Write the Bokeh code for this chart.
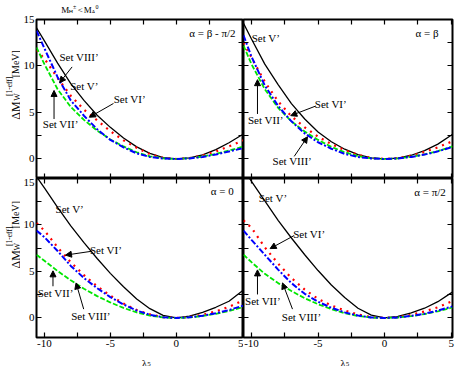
from bokeh.plotting import figure
from bokeh.layouts import gridplot
from bokeh.models import Range1d, FixedTicker, LinearAxis, Label, Arrow, NormalHead
from bokeh.embed import file_html
from bokeh.resources import INLINE
import math

FONT = "Liberation Serif, Times New Roman, serif"

# ---------------- data ----------------
lam = [-10.6, -10, -9, -8, -7, -6, -5, -4, -3, -2, -1, 0, 1, 2, 3, 4, 5, 5.1]

# alpha = beta - pi/2
tl_set5 = [14.1, 12.7, 10.3, 8.1, 6.3, 4.7, 3.4, 2.25, 1.3, 0.6, 0.15, 0, 0.12, 0.45, 1.0, 1.75, 2.6, 2.7]
tl_set6 = [11.7, 10.8, 8.7, 6.8, 5.3, 4.15, 3.0, 2.0, 1.2, 0.52, 0.13, 0, 0.1, 0.38, 0.8, 1.35, 1.95, 2.0]
tl_set7 = [12.0, 10.2, 7.5, 5.6, 4.2, 3.05, 2.1, 1.35, 0.72, 0.29, 0.07, 0, 0.07, 0.26, 0.55, 0.9, 1.3, 1.35]
tl_set8 = [13.8, 11.9, 8.8, 6.3, 4.65, 3.2, 2.05, 1.25, 0.6, 0.22, 0.05, 0, 0.06, 0.22, 0.48, 0.8, 1.15, 1.2]

# alpha = beta
tr_set5 = [14.6, 12.9, 10.2, 8.0, 5.95, 4.3, 2.9, 1.85, 1.05, 0.47, 0.12, 0, 0.1, 0.4, 0.9, 1.6, 2.55, 2.65]
tr_set6 = [12.5, 10.9, 8.3, 6.2, 4.6, 3.4, 2.4, 1.6, 0.95, 0.45, 0.11, 0, 0.09, 0.35, 0.75, 1.25, 1.85, 1.9]
tr_set7 = [12.2, 10.2, 7.5, 5.5, 4.05, 2.95, 2.05, 1.3, 0.72, 0.3, 0.07, 0, 0.06, 0.24, 0.5, 0.85, 1.3, 1.35]
tr_set8 = [13.3, 11.0, 7.9, 5.7, 4.05, 2.75, 1.8, 1.1, 0.55, 0.22, 0.05, 0, 0.06, 0.22, 0.47, 0.82, 1.25, 1.3]

# alpha = 0
bl_set5 = [15.2, 14.0, 11.9, 9.9, 8.1, 6.4, 4.8, 3.35, 2.05, 1.0, 0.28, 0, 0.2, 0.6, 1.15, 1.8, 2.9, 3.0]
bl_set6 = [10.2, 9.4, 7.6, 6.0, 4.6, 3.4, 2.4, 1.55, 0.85, 0.38, 0.09, 0, 0.09, 0.35, 0.7, 1.2, 1.85, 1.9]
bl_set7 = [6.8, 6.15, 5.05, 4.05, 3.15, 2.35, 1.67, 1.08, 0.6, 0.25, 0.06, 0, 0.06, 0.22, 0.45, 0.75, 1.15, 1.2]
bl_set8 = [9.4, 8.7, 7.2, 5.6, 4.3, 3.2, 2.25, 1.45, 0.8, 0.34, 0.08, 0, 0.07, 0.25, 0.5, 0.85, 1.3, 1.35]

# alpha = pi/2
br_set5 = [16.0, 14.7, 12.6, 10.5, 8.6, 6.8, 5.1, 3.55, 2.2, 1.05, 0.3, 0, 0.18, 0.55, 1.05, 1.75, 2.7, 2.8]
br_set6 = [10.5, 9.7, 7.6, 5.85, 4.3, 3.05, 2.05, 1.35, 0.8, 0.38, 0.09, 0, 0.09, 0.33, 0.7, 1.15, 1.75, 1.8]
br_set7 = [6.8, 6.0, 4.75, 3.75, 2.9, 2.12, 1.48, 0.95, 0.52, 0.22, 0.05, 0, 0.05, 0.2, 0.42, 0.72, 1.1, 1.15]
br_set8 = [9.4, 8.4, 6.8, 5.2, 3.75, 2.6, 1.75, 1.1, 0.6, 0.26, 0.06, 0, 0.06, 0.22, 0.45, 0.8, 1.2, 1.25]

x_major = [-10, -5, 0, 5]
x_minor = [-7.5, -2.5, 2.5]
x_tick_text = {-10: "-10", -5: "-5", 0: "0", 5: "5"}
y_major = [0, 5, 10, 15]
y_minor = [2.5, 7.5, 12.5]
y_tick_text = {0: "0", 5: "5", 10: "10", 15: "15"}

panel_titles = ["α = β - π/2", "α = β", "α = 0", "α = π/2"]
set_names = ["Set V’", "Set VI’", "Set VII’", "Set VIII’"]

# ---------------- layout (pixels) ----------------
XR = (-10.6, 5.1)
YR = (-2.1, 15.0)
YLAB_W = 20      # column holding the rotated y-axis titles
HEAD_H = 13      # row holding the "M_H± < M_A0" header
XLAB_H = 15      # row holding the lambda_5 titles
FRAME_W = 209
FRAME_H = 159
L_BORDER = 14
R_BORDER = 4
T_BORDER = 6
B_BORDER = 14

SERIES_STYLE = [
    dict(line_color="black", line_width=1.3),
    dict(line_color="#ff0000", line_width=2.2, line_dash="2 5"),
    dict(line_color="#00e600", line_width=1.8, line_dash="5 2"),
    dict(line_color="#0000ff", line_width=2.0, line_dash="6 2 2 2"),
]


def style_axis(ax, ticks, minor, show_labels, overrides):
    ax.ticker = FixedTicker(ticks=ticks, minor_ticks=minor)
    ax.axis_line_color = None
    ax.major_tick_in = 5
    ax.major_tick_out = 0
    ax.minor_tick_in = 5
    ax.minor_tick_out = 0
    ax.major_tick_line_color = "black"
    ax.minor_tick_line_color = "black"
    ax.major_tick_line_width = 1.2
    ax.minor_tick_line_width = 1.2
    ax.axis_label = None
    if show_labels:
        ax.major_label_overrides = overrides
        ax.major_label_text_font = FONT
        ax.major_label_text_font_size = "11px"
        ax.major_label_text_color = "black"
        ax.major_label_standoff = 2
    else:
        ax.major_label_text_color = None
        ax.major_label_standoff = 0


def make_panel(is_left, is_top, series, title, title_x, title_y, labels, arrows):
    p = figure(
        width=(L_BORDER if is_left else 0) + FRAME_W + (0 if is_left else R_BORDER),
        height=(T_BORDER if is_top else 0) + FRAME_H + (0 if is_top else B_BORDER),
        x_range=Range1d(*XR), y_range=Range1d(*YR),
        output_backend="svg", toolbar_location=None, title=None,
        min_border_left=L_BORDER if is_left else 0,
        min_border_right=0 if is_left else R_BORDER,
        min_border_top=T_BORDER if is_top else 0,
        min_border_bottom=0 if is_top else B_BORDER,
        outline_line_color="black", outline_line_width=2,
        background_fill_color="white", border_fill_color="white",
    )
    p.xgrid.visible = False
    p.ygrid.visible = False
    style_axis(p.xaxis[0], x_major, x_minor, not is_top, x_tick_text)
    style_axis(p.yaxis[0], y_major, y_minor, is_left, y_tick_text)
    top_ax = LinearAxis()
    style_axis(top_ax, x_major, x_minor, False, x_tick_text)
    p.add_layout(top_ax, "above")
    right_ax = LinearAxis()
    style_axis(right_ax, y_major, y_minor, False, y_tick_text)
    p.add_layout(right_ax, "right")

    for vals, st in zip(series, SERIES_STYLE):
        p.line(lam, vals, **st)

    p.add_layout(Label(x=title_x, y=title_y, text=title, text_font=FONT,
                       text_font_size="11px", text_align="right",
                       text_baseline="middle", text_color="black"))
    for name, (lx, ly) in zip(set_names, labels):
        p.add_layout(Label(x=lx, y=ly, text=name, text_font=FONT,
                           text_font_size="11px", text_align="center",
                           text_baseline="middle", text_color="black"))
    for (x0, y0, x1, y1) in arrows:
        p.add_layout(Arrow(end=NormalHead(size=6, fill_color="black",
                                          line_color="black", line_width=1),
                           x_start=x0, y_start=y0, x_end=x1, y_end=y1,
                           line_color="black", line_width=1))
    return p


def text_strip(w, h, pieces, angle=0.0):
    """A blank plot whose frame is the whole canvas; it only carries texts.
    pieces: (text, x_px, y_px_from_bottom, font_size)"""
    f = figure(width=w, height=h, x_range=Range1d(0, w), y_range=Range1d(0, h),
               min_border=0, toolbar_location=None, output_backend="svg", title=None,
               x_axis_location=None, y_axis_location=None,
               outline_line_color=None, background_fill_color="white",
               border_fill_color="white")
    f.grid.visible = False
    for t, x, y, fs in pieces:
        f.add_layout(Label(text=t, x=x, y=y, angle=angle, text_font=FONT,
                           text_font_size=fs, text_align="left",
                           text_baseline="alphabetic", text_color="black"))
    return f


tl = make_panel(True, True, [tl_set5, tl_set6, tl_set7, tl_set8], panel_titles[0], 4.5, 13.5,
                [(-6.97, 7.8), (-3.53, 6.4), (-8.77, 3.8), (-7.37, 10.95)],
                [(-4.76, 5.97, -6.59, 4.49), (-9.27, 4.3, -9.27, 7.37), (-7.9, 9.9, -8.85, 8.2)])
tr = make_panel(False, True, [tr_set5, tr_set6, tr_set7, tr_set8], panel_titles[1], 4.06, 13.5,
                [(-8.92, 13.0), (-4.04, 5.9), (-8.92, 4.14), (-6.94, -0.25)],
                [(-5.16, 5.7, -7.05, 4.66), (-9.55, 4.84, -9.55, 8.53), (-6.79, 0.28, -5.79, 2.39)])
bl = make_panel(True, False, [bl_set5, bl_set6, bl_set7, bl_set8], panel_titles[2], 4.36, 13.7,
                [(-8.08, 11.7), (-5.33, 7.3), (-9.15, 2.7), (-6.47, 0.25)],
                [(-6.39, 7.18, -8.4, 6.76), (-9.35, 3.41, -9.35, 5.07), (-7.02, 0.95, -7.6, 3.77)])
br = make_panel(False, False, [br_set5, br_set6, br_set7, br_set8], panel_titles[3], 4.6, 13.6,
                [(-8.38, 12.9), (-5.66, 9.05), (-9.14, 1.83), (-6.24, 0.07)],
                [(-6.79, 8.87, -8.6, 7.46), (-9.55, 2.53, -9.55, 5.17), (-6.92, 0.95, -7.67, 3.77)])

TOP_H = T_BORDER + FRAME_H
BOT_H = FRAME_H + B_BORDER
LEFT_W = L_BORDER + FRAME_W
RIGHT_W = FRAME_W + R_BORDER

# header  M_{H±} < M_{A0}
header = text_strip(LEFT_W, HEAD_H, [
    ("M", 26.7, 3.8, "9px"), ("H", 34.8, 2.0, "6px"), ("±", 39.2, 6.8, "6px"),
    ("<", 44.5, 3.8, "9px"), ("M", 51.0, 3.8, "9px"), ("A", 59.1, 2.0, "6px"),
    ("0", 63.5, 6.8, "6px"),
])

# rotated y titles  ΔM_W^[1-eff] [MeV]
ylab_top = text_strip(YLAB_W, TOP_H, [
    ("ΔM", 15, 61, "12px"), ("W", 17.4, 80.6, "8px"),
    ("[1-eff]", 9, 85.5, "7.5px"), ("[MeV]", 15, 105, "10px"),
], angle=math.pi / 2)
ylab_bot = text_strip(YLAB_W, BOT_H, [
    ("ΔM", 15, 75, "12px"), ("W", 17.4, 94.6, "8px"),
    ("[1-eff]", 9, 99.5, "7.5px"), ("[MeV]", 15, 119, "10px"),
], angle=math.pi / 2)

# x titles  λ_5
xlab_l = text_strip(LEFT_W, XLAB_H, [("λ", 113.5, 3.5, "11px"), ("5", 119.3, 2.5, "7px")])
xlab_r = text_strip(RIGHT_W, XLAB_H, [("λ", 98.5, 3.5, "11px"), ("5", 104.3, 2.5, "7px")])

grid = gridplot([[None, header, None],
                 [ylab_top, tl, tr],
                 [ylab_bot, bl, br],
                 [None, xlab_l, xlab_r]], toolbar_location=None)

open("out.html", "w").write(file_html(grid, INLINE))
